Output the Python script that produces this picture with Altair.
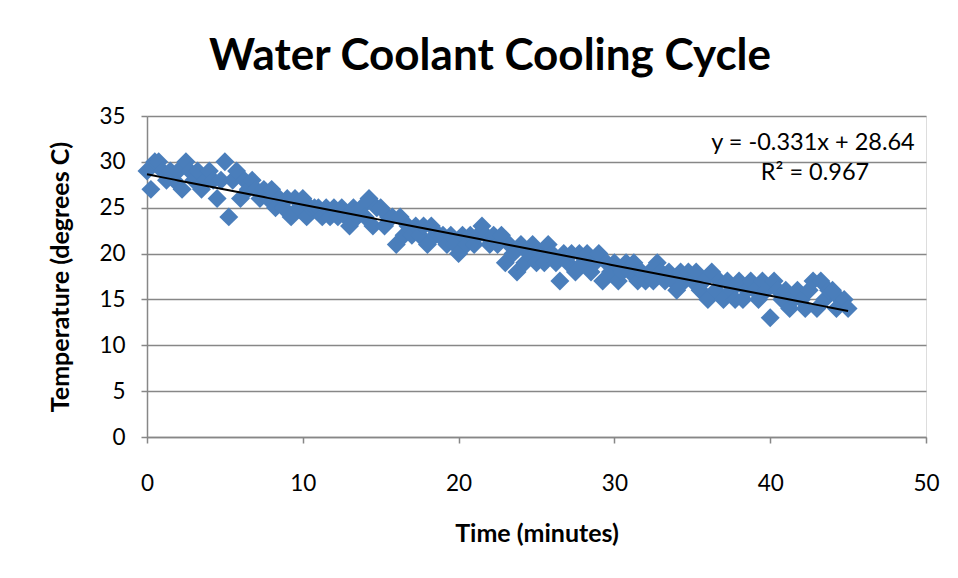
import altair as alt
import pandas as pd

# sampling interval of the logger (minutes)
STEP = 0.25

# temperature readings (degrees C), 4 per minute
temps = [
    29, 27, 30, 30,  29, 28, 29, 28,  29, 27, 30, 29,  28, 29, 27, 28,
    29, 28, 26, 28,  30, 24, 28, 29,  26, 28, 27, 28,  27, 26, 27, 26,
    27, 25, 26, 25,  26, 24, 26, 25,  26, 24, 25, 25,  25, 24, 25, 24,
    25, 24, 25, 24,  23, 25, 24, 25,  24, 26, 23, 25,  25, 23, 24, 24,
    21, 24, 22, 23,  22, 23, 22, 23,  21, 23, 22, 22,  22, 21, 22, 21,
    20, 22, 21, 22,  21, 22, 23, 22,  21, 22, 21, 22,  19, 21, 20, 18,
    21, 19, 20, 21,  19, 20, 19, 21,  20, 19, 17, 20,  19, 20, 18, 20,
    19, 20, 18, 19,  20, 17, 19, 18,  19, 17, 18, 19,  18, 19, 17, 18,
    17, 18, 17, 19,  18, 17, 18, 17,  16, 18, 17, 18,  17, 18, 16, 17,
    15, 18, 16, 17,  15, 17, 16, 15,  17, 15, 16, 17,  16, 15, 17, 16,
    13, 17, 16, 15,  16, 14, 15, 16,  15, 14, 16, 17,  14, 17, 15, 16,
    16, 14, 15, 15,  14,
]
times = [round(i * STEP, 2) for i in range(len(temps))]

# trendline as printed on the chart
slope = -0.331
intercept = 28.64
eq_lines = ["y = -0.331x + 28.64", "R² = 0.967"]

x_ticks = [0, 10, 20, 30, 40, 50]
y_ticks = [0, 5, 10, 15, 20, 25, 30, 35]

df = pd.DataFrame({"time": times, "temp": temps})

FONT = "Lato"
GRAY = "#878787"
BLUE = "#4a7ebb"

x_enc = alt.X(
    "time:Q",
    scale=alt.Scale(domain=[0, 50], nice=False, zero=False),
    axis=alt.Axis(
        values=x_ticks, grid=False, title="Time (minutes)",
        labelFont=FONT, labelFontSize=22.5, labelColor="#000",
        labelFlush=False, labelOverlap=False,
        labelPadding=29, tickSize=6, tickColor=GRAY, domainColor=GRAY,
        domainWidth=1.5, tickWidth=1.5,
        titleFont=FONT, titleFontSize=25, titleFontWeight="bold",
        titleColor="#000", titlePadding=27,
    ),
)
y_enc = alt.Y(
    "temp:Q",
    scale=alt.Scale(domain=[0, 35], nice=False),
    axis=alt.Axis(
        values=y_ticks, grid=True, gridColor=GRAY, gridWidth=1.5,
        title="Temperature (degrees C)",
        labelFont=FONT, labelFontSize=22.5, labelColor="#000",
        labelFlush=False, labelOverlap=False,
        labelPadding=16, tickSize=6, tickColor=GRAY, domainColor=GRAY,
        domainWidth=1.5, tickWidth=1.5,
        titleFont=FONT, titleFontSize=25, titleFontWeight="bold",
        titleColor="#000", titlePadding=25,
    ),
)

points = alt.Chart(df).mark_point(
    shape="diamond", filled=True, size=360, color=BLUE, opacity=1
).encode(x=x_enc, y=y_enc)

trend = alt.Chart(df).transform_calculate(
    fit=f"{slope} * datum.time + {intercept}"
).mark_line(color="#000", strokeWidth=2).encode(
    x="time:Q", y="fit:Q"
)

eq1 = alt.Chart(pd.DataFrame({"txt": [eq_lines[0]]})).mark_text(
    font=FONT, fontSize=23.5, color="#000", align="center", baseline="alphabetic"
).encode(text="txt:N", x=alt.value(666), y=alt.value(34))
eq2 = alt.Chart(pd.DataFrame({"txt": [eq_lines[1]]})).mark_text(
    font=FONT, fontSize=23.5, color="#000", align="center", baseline="alphabetic"
).encode(text="txt:N", x=alt.value(668), y=alt.value(64))

title = alt.Chart(pd.DataFrame({"txt": ["Water Coolant Cooling Cycle"]})).mark_text(
    font=FONT, fontSize=44, fontWeight="bold", color="#000",
    align="center", baseline="alphabetic"
).encode(text="txt:N", x=alt.value(343), y=alt.value(-46))

chart = alt.layer(points, trend, eq1, eq2, title).properties(
    width=779, height=321,
    padding={"left": 139, "top": 108, "right": 20, "bottom": 128},
    autosize=alt.AutoSizeParams(type="none"),
).configure_view(stroke=None).configure(background="white")

chart.save("out.html", embed_options={"renderer": "svg", "actions": False})
